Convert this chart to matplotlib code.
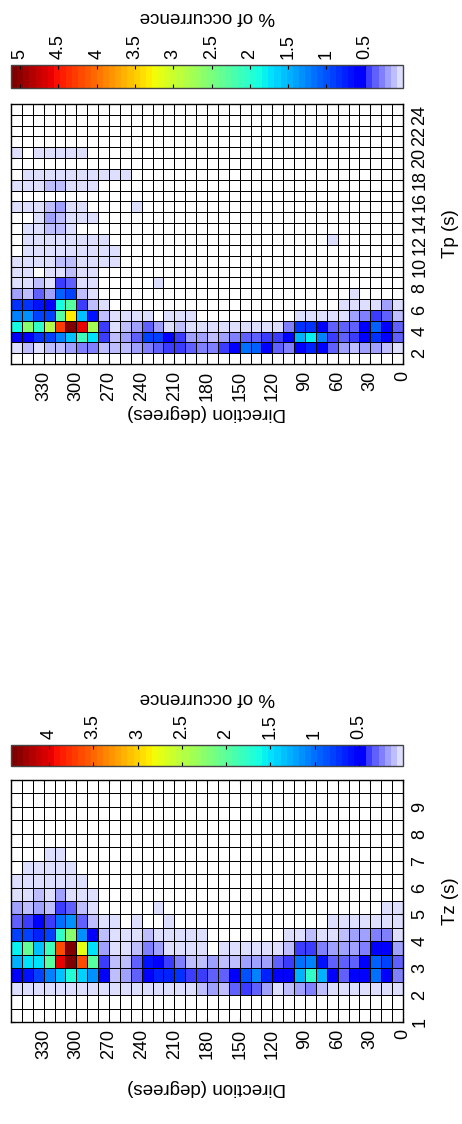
import numpy as np
import matplotlib
matplotlib.use('Agg')
import matplotlib.pyplot as plt
from matplotlib.colors import ListedColormap

plt.rcParams['font.family'] = ['Liberation Sans', 'DejaVu Sans']

# direction bins as drawn: 360 at the left edge, 0 at the right edge
dir_edges = np.arange(360, -1, -10)
dir_ticks = np.arange(0, 331, 30)

# period bins, listed top row first
tp_edges = np.arange(25, 0, -1)
tp_ticks = np.arange(2, 25, 2)
tz_edges = np.arange(10, 0.9, -0.5)
tz_ticks = np.arange(1, 10)

# % of occurrence, Tp panel (rows Tp 24..1, columns 350-360 .. 0-10 deg)
tp_pct = [
    [0] * 36,
    [0] * 36,
    [0] * 36,
    [0] * 36,
    [.04, 0, .04, .04, .04, .04, .04, 0, 0, 0] + [0] * 26,
    [0] * 36,
    [0, .04, .04, .04, .04, .04, .04, .04, .04, .04, .04] + [0] * 25,
    [.04, .04, .04, .12, .12, .04, .04, .04] + [0] * 28,
    [0] * 36,
    [.04, .04, .04, .14, .20, .04, .04, 0, 0, 0, 0, .04] + [0] * 24,
    [0, 0, .04, .22, .14, .04, .04, .04] + [0] * 28,
    [0, .04, .04, .14, .12, .04] + [0] * 30,
    [0, .04, .04, .04, .04, .04, .04, .04, .04] + [0] * 20 + [.04] + [0] * 6,
    [0, .04, .04, .04, .04, .04, .04, .04, .04, .04] + [0] * 26,
    [.04, .04, .04, .04, .12, .14, .04, .04, .04, .04] + [0] * 26,
    [.04, .04, 0, .04, .04, .14, .04, .04] + [0] * 28,
    [.04, .04, .14, .04, .44, .38, .04, .04, 0, 0, 0, 0, 0, .04] + [0] * 22,
    [.20, .14, .32, .20, 1.10, .94, .14, .04] + [0] * 23 + [.04, 0, 0, 0, 0],
    [.80, .86, .70, .56, 1.84, 2.30, .46, .14, .04] + [0] * 21 + [.04, .04, .04, .04, .16, .04],
    [1.26, 1.35, .94, .94, 2.30, 3.33, 1.54, .70, .14, .04,
     .04, .04, .04, 0, .04, .04, .04, 0, 0, 0,
     0, 0, 0, 0, 0, 0, .04, .04, .04, .04,
     .04, .16, .24, .44, .38, .14],
    [1.84, 2.57, 2.00, 2.80, 4.24, 5.12, 4.57, 2.75, .42, .04,
     .12, .20, .38, .20, .06, .08, .06, .04, .04, .04,
     .04, .04, .04, .04, .04, .30, .80, .86, .50, .34,
     .32, .36, .48, 1.06, .56, .38],
    [.48, .56, .86, .94, 1.26, 1.59, 2.10, 1.70, .42, .12,
     .20, .38, .90, .94, .56, .46, .20, .16, .14, .20,
     .28, .34, .38, .40, .44, .56, 1.44, 1.80, 1.26, .46,
     .36, .40, .48, .80, .56, .34],
    [.04, .12, .04, .12, .12, .20, .30, .28, .12, .10,
     .10, .16, .24, .38, .44, .44, .38, .30, .30, .40,
     .56, 1.14, 1.10, .56, .38, .28, .56, .73, .56, .38,
     .16, .12, .18, .16, .12, .04],
    [0] * 36,
]

# % of occurrence, Tz panel (rows Tz 9.5..1.0, same columns)
tz_pct = [
    [0] * 36,
    [0] * 36,
    [0] * 36,
    [0] * 36,
    [0] * 36,
    [0, 0, 0, .035, .035] + [0] * 31,
    [0, .035, .035, .035, .035, .035] + [0] * 30,
    [.035] * 7 + [0] * 29,
    [.035, .035, .10, .035, .17, .035, .035, .035] + [0] * 28,
    [.20, .10, .20, .10, .38, .31, .10, .035, 0, 0, 0, 0, 0, .035] + [0] * 20 + [.035, .035],
    [.28, .38, .48, .38, 1.02, 1.16, .31, .10, .035, .035,
     0, .035, 0, 0, .035, 0, 0, 0, 0, 0,
     0, 0, 0, 0, 0, 0, 0, 0, 0, .035,
     .035, .035, .035, .035, .035, .035],
    [.78, .78, .65, .78, 1.74, 2.22, 1.12, .48, .10, .035,
     .035, .035, .10, .035, .035, .035, .035, .035, 0, 0,
     0, 0, 0, 0, 0, .035, .035, .10, .035, .035,
     .12, .15, .20, .24, .26, .035],
    [1.59, 2.03, 1.38, 1.83, 3.63, 4.39, 2.70, 1.52, .20, .035,
     .035, .12, .24, .20, .035, .035, .035, .035, 0, .035,
     .035, .035, .035, .035, .035, .12, .38, .38, .24, .20,
     .20, .20, .24, .55, .44, .20],
    [1.28, 1.52, 1.52, 1.95, 3.99, 4.43, 3.65, 1.95, .38, .10,
     .12, .31, .60, .48, .38, .24, .12, .12, .14, .12,
     .10, .20, .17, .14, .31, .38, .98, 1.09, .60, .31,
     .30, .31, .48, .94, .78, .31],
    [.44, .60, .78, 1.09, 1.33, 1.70, 1.42, 1.12, .44, .10,
     .20, .31, .48, .69, .69, .72, .38, .38, .31, .31,
     .48, .89, 1.09, .69, .48, .45, 1.28, 1.78, 1.28, .48,
     .31, .42, .55, .98, .50, .26],
    [.035] * 17 + [.10, .17, .10,
     .28, .40, .28, .17, .035, .10, .17, .24, .10, .035] + [.035] * 6,
    [0] * 36,
    [0] * 36,
]


def make_cmap():
    # jet with the dark-blue start replaced by pale lavender steps
    pale = [222, 190, 160, 128, 96, 60]
    cols = [(v / 255, v / 255, 1.0) for v in pale]
    jet = plt.get_cmap('jet')
    for i in range(58):
        cols.append(jet(0.11 + i / 57 * 0.89)[:3])
    cm = ListedColormap(cols)
    cm.set_bad('white')
    return cm


W, H = 462, 1124
fig = plt.figure(figsize=(W / 100, H / 100), dpi=100)
cmap = make_cmap()
TICK = 13
LAB = 13.5


def px(x0, y0, x1, y1):
    return [x0 / W, 1 - y1 / H, (x1 - x0) / W, (y1 - y0) / H]


def panel(ax_box, cb_box, y_edges, data, yticks, ylab, xlab_y, cblab_y):
    ax = fig.add_axes(px(*ax_box))
    vals = np.ma.masked_equal(np.array(data, dtype=float), 0)
    vmax = vals.max()
    mesh = ax.pcolormesh(dir_edges, y_edges, vals, cmap=cmap, vmin=0, vmax=vmax,
                         edgecolors='k', linewidth=0.6)
    ax.set_xlim(360, 0)
    ax.set_ylim(y_edges.min(), y_edges.max())
    ax.set_xticks(dir_ticks)
    ax.set_yticks(yticks)
    ax.set_yticklabels([str(t) for t in yticks])
    ax.tick_params(axis='x', which='both', direction='in', length=3, top=True, bottom=True,
                   labelrotation=90, labelsize=TICK, pad=5)
    ax.tick_params(axis='y', which='both', direction='in', length=3, left=True, right=True,
                   labelleft=False, labelright=True, labelrotation=90, labelsize=TICK, pad=6)
    for lab in ax.get_yticklabels():
        lab.set_va('center')
    for s in ax.spines.values():
        s.set_linewidth(1.0)
    ax.set_xlabel('Direction (degrees)', rotation=180, fontsize=LAB)
    ax.xaxis.label.set_va('center')
    ax.xaxis.set_label_coords(0.5, xlab_y)
    ax.yaxis.set_label_position('right')
    ax.set_ylabel(ylab, rotation=90, fontsize=LAB)
    ax.yaxis.set_label_coords(1.10, 0.5)

    cax = fig.add_axes(px(*cb_box))
    cb = fig.colorbar(mesh, cax=cax, orientation='horizontal')
    cax.invert_xaxis()
    cticks = np.arange(0.5, vmax, 0.5)
    cb.set_ticks(cticks)
    cb.set_ticklabels(['%g' % t for t in cticks])
    cax.tick_params(axis='x', which='both', direction='in', length=3, top=True, bottom=True,
                    labeltop=True, labelbottom=False, labelrotation=90, labelsize=TICK, pad=4)
    cax.minorticks_off()
    cb.outline.set_linewidth(1.0)
    cb.outline.set_edgecolor('#444444')
    cax.xaxis.set_label_position('top')
    cb.set_label('% of occurrence', rotation=180, fontsize=LAB)
    cax.xaxis.label.set_va('center')
    cax.xaxis.set_label_coords(0.5, cblab_y)
    return ax


panel((11, 104, 403, 364), (11, 65, 403, 88), tp_edges, tp_pct, tp_ticks, 'Tp (s)', -0.185, 3.13)
panel((11, 780, 403, 1022), (11, 745, 403, 766), tz_edges, tz_pct, tz_ticks, 'Tz (s)', -0.27, 3.24)

fig.savefig('out.png', dpi=100)
